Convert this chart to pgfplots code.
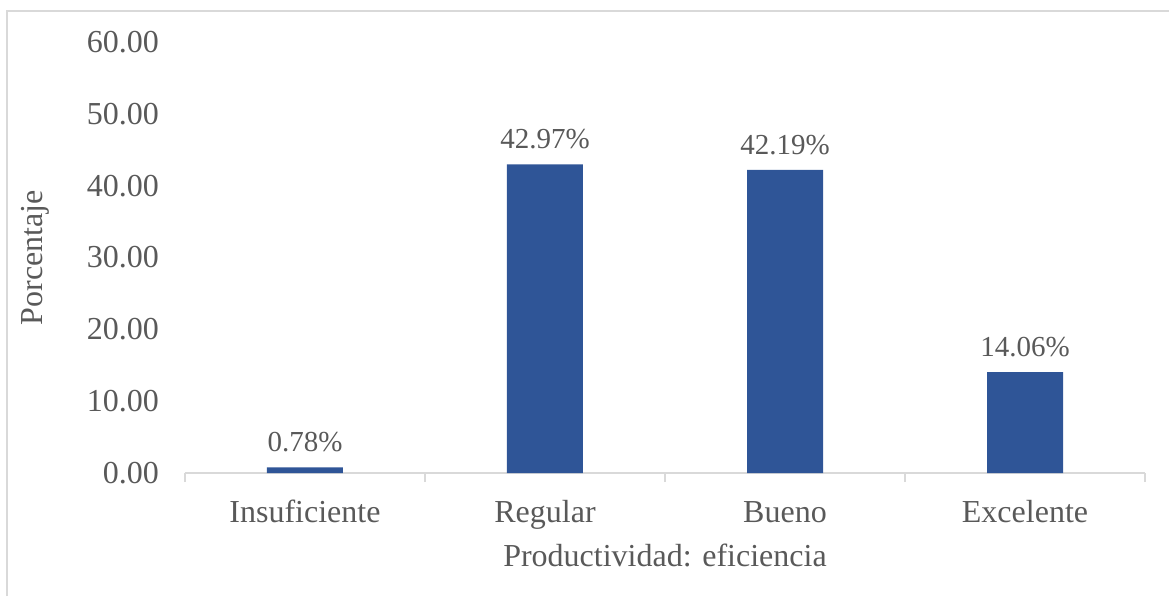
\documentclass[border=0pt]{standalone}
\usepackage{pgfplots}
\pgfplotsset{compat=1.18}
\usepackage{fontspec}
\setmainfont{Liberation Serif}
\definecolor{barblue}{HTML}{2F5597}
\definecolor{txtgray}{HTML}{595959}
\definecolor{axgray}{HTML}{D9D9D9}
\begin{document}
\begin{tikzpicture}
\useasboundingbox (-92.5pt,-61.5pt) rectangle (492pt,236.5pt);
% chart frame (left and top edges)
\draw[axgray, line width=1pt] (-89pt,-61.5pt) -- (-89pt,231pt) -- (492pt,231pt);
\begin{axis}[
  at={(0,0)}, anchor=south west,
  scale only axis,
  width=480pt, height=215.5pt,
  xmin=-0.5, xmax=3.5, ymin=0, ymax=60,
  ytick={0,10,...,60},
  yticklabel style={/pgf/number format/fixed, /pgf/number format/fixed zerofill, /pgf/number format/precision=2, xshift=-5pt},
  /pgf/number format/assume math mode=true,
  xtick={-0.5,0.5,1.5,2.5,3.5},
  x tick label as interval,
  xticklabels={Insuficiente, Regular, Bueno, Excelente},
  x tick style={axgray, line width=1pt},
  major tick length=4.5pt,
  tick align=outside,
  y tick style={draw=none},
  axis y line*=left,
  y axis line style={draw=none},
  axis x line*=bottom,
  x axis line style={axgray, line width=1pt, -},
  tick label style={font=\fontsize{16}{18}\selectfont, text=txtgray},
  xticklabel style={anchor=base, yshift=-20pt},
  xlabel={Productividad: eficiencia},
  ylabel={Porcentaje},
  label style={font=\fontsize{16}{18}\selectfont, text=txtgray},
  xlabel style={at={(axis description cs:0.5,0)}, anchor=center, yshift=-41pt},
  ylabel style={at={(axis description cs:0,0.5)}, anchor=center, yshift=75pt},
  clip=false,
]
\addplot[ybar, bar width=38pt, fill=barblue, draw=none,
  nodes near coords={\pgfmathprintnumber[fixed, fixed zerofill, precision=2]{\pgfplotspointmeta}\%},
  nodes near coords style={font=\fontsize{14.5}{16}\selectfont, text=txtgray, /pgf/number format/assume math mode=true, yshift=4pt},
] coordinates {(0,0.78) (1,42.97) (2,42.19) (3,14.06)};
\end{axis}
\end{tikzpicture}
\end{document}
